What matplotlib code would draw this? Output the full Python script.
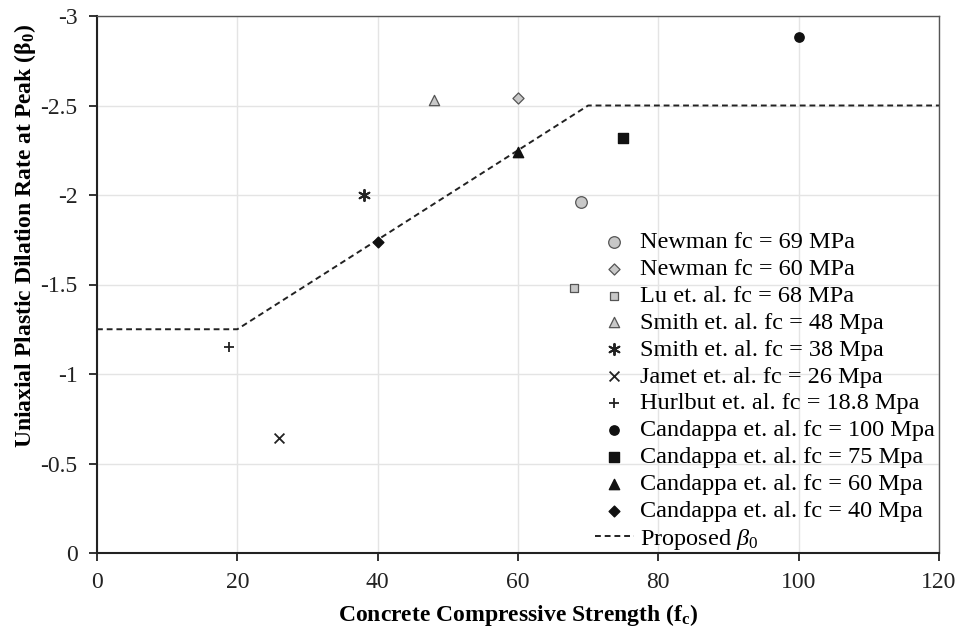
import numpy as np
import matplotlib
matplotlib.use("Agg")
import matplotlib.pyplot as plt
from matplotlib.ticker import FuncFormatter, MultipleLocator

plt.rcParams['font.family'] = ['Liberation Serif', 'DejaVu Serif']
plt.rcParams['mathtext.fontset'] = 'custom'
plt.rcParams['mathtext.rm'] = 'Liberation Serif'
plt.rcParams['mathtext.it'] = 'Liberation Serif:italic'
plt.rcParams['mathtext.bf'] = 'Liberation Serif:bold'
plt.rcParams['axes.unicode_minus'] = False

# test results: (label, fc, beta0)
labels = [
    "Newman fc = 69 MPa",
    "Newman fc = 60 MPa",
    "Lu et. al. fc = 68 MPa",
    "Smith et. al. fc = 48 Mpa",
    "Smith et. al. fc = 38 Mpa",
    "Jamet et. al. fc = 26 Mpa",
    "Hurlbut et. al. fc = 18.8 Mpa",
    "Candappa et. al. fc = 100 Mpa",
    "Candappa et. al. fc = 75 Mpa",
    "Candappa et. al. fc = 60 Mpa",
    "Candappa et. al. fc = 40 Mpa",
]
fc = [69, 60, 68, 48, 38, 26, 18.8, 100, 75, 60, 40]
beta0 = [-1.96, -2.54, -1.48, -2.53, -2.0, -0.64, -1.15, -2.88, -2.32, -2.24, -1.74]

# proposed bilinear model
prop_fc = [0, 20, 70, 120]
prop_beta = [-1.25, -1.25, -2.5, -2.5]

gray = "#c8c8c8"
edge = "#555555"
styles = [
    dict(marker="o", s=70, facecolor=gray, edgecolor=edge, linewidths=0.9),
    dict(marker="D", s=32, facecolor=gray, edgecolor=edge, linewidths=0.9),
    dict(marker="s", s=40, facecolor=gray, edgecolor=edge, linewidths=0.9),
    dict(marker="^", s=55, facecolor=gray, edgecolor=edge, linewidths=0.9),
    dict(marker=(6, 2, 0), s=65, color="#222222", linewidths=1.4),
    dict(marker="x", s=50, color="#222222", linewidths=1.3),
    dict(marker="+", s=60, color="#222222", linewidths=1.3),
    dict(marker="o", s=45, color="#111111"),
    dict(marker="s", s=45, color="#111111"),
    dict(marker="^", s=55, color="#111111"),
    dict(marker="D", s=30, color="#111111"),
]

fig = plt.figure(figsize=(9.62, 6.29), dpi=100)
ax = fig.add_axes([97 / 962, 1 - 553 / 629, 842 / 962, 537 / 629])

for lab, x, y, st in zip(labels, fc, beta0, styles):
    ax.scatter([x], [y], label=lab, zorder=3, **st)

ax.plot(prop_fc, prop_beta, ls=(0, (3, 2)), color="#222222", lw=1.4,
        label=r"Proposed $\beta_0$", zorder=2)

ax.set_xlim(0, 120)
ax.set_ylim(0, -3)
ax.xaxis.set_major_locator(MultipleLocator(20))
ax.yaxis.set_major_locator(MultipleLocator(0.5))
ax.yaxis.set_major_formatter(FuncFormatter(lambda v, p: "%g" % v))
ax.grid(True, color="#e4e4e4", lw=1.0, zorder=0)
ax.set_axisbelow(True)
ax.tick_params(direction="out", length=6, width=1.3, labelsize=17,
               colors="#222222", pad=8)
for side in ("left", "bottom"):
    ax.spines[side].set_color("#222222")
    ax.spines[side].set_linewidth(1.5)
for side in ("top", "right"):
    ax.spines[side].set_color("#555555")
    ax.spines[side].set_linewidth(1.0)

ax.set_xlabel(r"Concrete Compressive Strength (f$_\mathbf{c}$)",
              fontsize=17, fontweight="bold", labelpad=6)
ax.set_ylabel(r"Uniaxial Plastic Dilation Rate at Peak ($\mathbf{\beta_0}$)",
              fontsize=17, fontweight="bold")
ax.yaxis.set_label_coords(-0.070, 0.59)

ax.legend(loc="lower right", bbox_to_anchor=(1.012, -0.025), frameon=False,
          fontsize=17.5, labelspacing=0.2, handletextpad=0.25,
          handlelength=1.6, borderaxespad=0.2)

fig.savefig("out.png", dpi=100)
